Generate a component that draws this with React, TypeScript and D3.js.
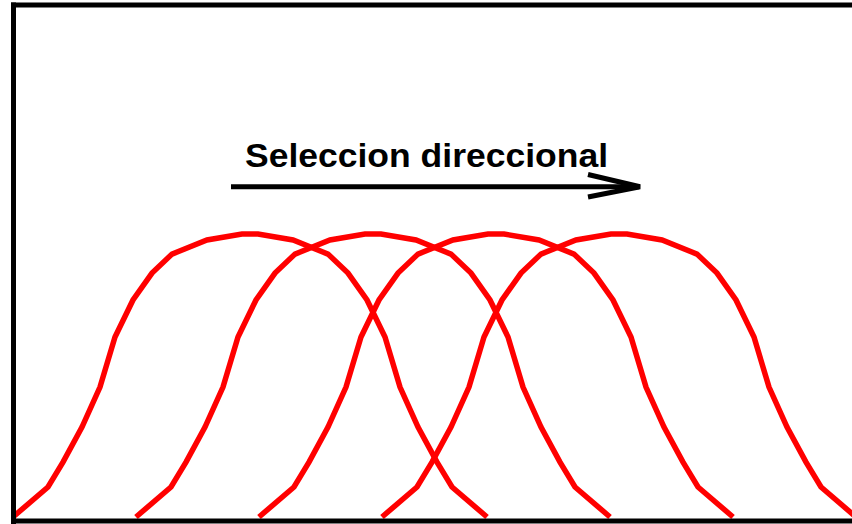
import React from "react";
import * as d3 from "d3";

// Bell-curve profile: horizontal offsets from the curve centre and heights (0..100)
const profileOffsets = [-237, -202, -187, -168, -150, -135, -117, -98, -78, -43, -8, 8, 43, 78, 98, 117, 135, 150, 168, 187, 202, 237];
const profileHeights = [0, 10.6, 19.4, 31.8, 45.9, 63.6, 76.7, 86.2, 92.9, 97.9, 100, 100, 97.9, 92.9, 86.2, 76.7, 63.6, 45.9, 31.8, 19.4, 10.6, 0];
// Centres of the four successive generations
const curveCenters = [237, 360, 483, 606];
const title = "Seleccion direccional";

const W = 852;
const H = 524;

export default function App() {
  const x = d3.scaleLinear().domain([0, 839]).range([13, 852]);
  const y = d3.scaleLinear().domain([0, 100]).range([517, 234]);

  const line = d3
    .line<[number, number]>()
    .x((d) => x(d[0]))
    .y((d) => y(d[1]));

  const curves = curveCenters.map((c) =>
    profileOffsets.map((o, i) => [c + o, profileHeights[i]] as [number, number])
  );

  return (
    <svg
      width={W}
      height={H}
      style={{ position: "absolute", left: 0, top: 0, background: "#fff" }}
    >
      <rect x={0} y={0} width={W} height={H} fill="#fff" />
      {curves.map((pts, i) => (
        <path
          key={i}
          d={line(pts) || ""}
          fill="none"
          stroke="#ff0000"
          strokeWidth={5.5}
        />
      ))}
      {/* frame */}
      <line x1={13.5} y1={2.5} x2={13.5} y2={524} stroke="#000" strokeWidth={5} />
      <line x1={11} y1={5} x2={852} y2={5} stroke="#000" strokeWidth={5} />
      <line x1={11} y1={521} x2={852} y2={521} stroke="#000" strokeWidth={5} />
      {/* annotation */}
      <text
        x={245}
        y={166.5}
        fontFamily="'Liberation Sans', Arial, sans-serif"
        fontWeight="bold"
        fontSize={32.5}
        textLength={363}
        lengthAdjust="spacingAndGlyphs"
        fill="#000"
      >
        {title}
      </text>
      <line x1={231} y1={186.8} x2={639} y2={186.8} stroke="#000" strokeWidth={5} />
      <polyline
        points="588,174.5 640,186.8 588,197"
        fill="none"
        stroke="#000"
        strokeWidth={5}
      />
    </svg>
  );
}
